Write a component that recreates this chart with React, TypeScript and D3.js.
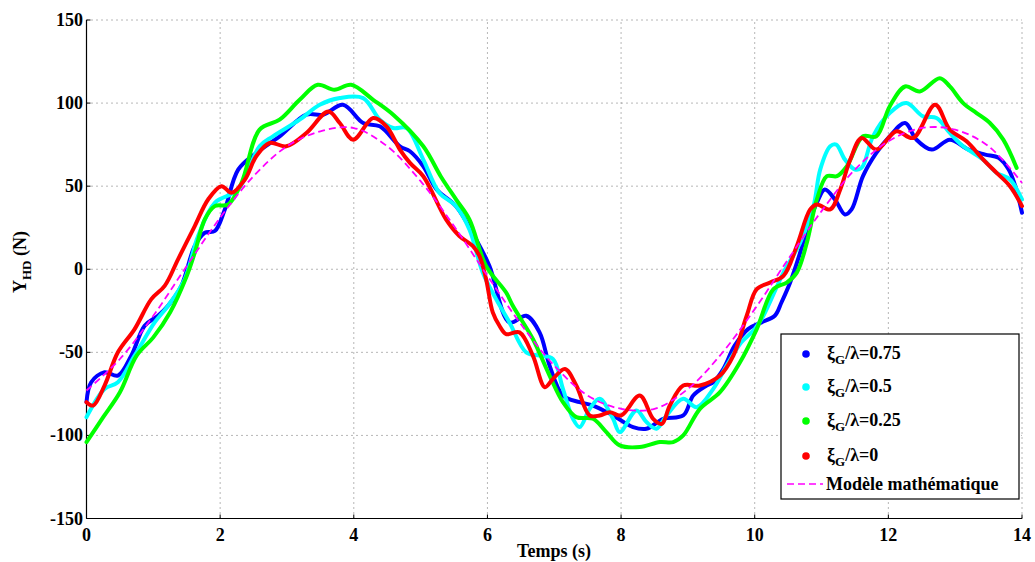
import React from "react";
import * as d3 from "d3";

type P = [number, number];

const xTicks = [0, 2, 4, 6, 8, 10, 12, 14];
const yTicks = [-150, -100, -50, 0, 50, 100, 150];

const seriesNames = ["0.75", "0.5", "0.25", "0"];
const seriesColors = ["#0000ff", "#00ffff", "#00ff00", "#ff0000"];
const modelName = "Modèle mathématique";

const blue: P[] = [
  [0, -80], [0.07, -68], [0.27, -62], [0.47, -64], [0.67, -52], [0.87, -34], [1.07, -28], [1.22, -22],
  [1.42, -10], [1.62, 14], [1.77, 22], [1.92, 23], [2.07, 36], [2.27, 60], [2.54, 70], [2.89, 80],
  [3.29, 93], [3.54, 93], [3.84, 99], [4.14, 88], [4.39, 86], [4.69, 74], [4.84, 71], [5.04, 62],
  [5.24, 48], [5.53, 38], [5.83, 18], [6.03, 2], [6.33, -32], [6.58, -28], [6.78, -38], [6.93, -58],
  [7.13, -76], [7.38, -80], [7.58, -82], [7.88, -88], [8.18, -95], [8.38, -96], [8.63, -90], [8.93, -88],
  [9.08, -76], [9.28, -70], [9.38, -68], [9.53, -60], [9.7, -46], [9.9, -36], [10.1, -32], [10.3, -28],
  [10.4, -20], [10.53, -8], [10.68, 10], [10.83, 30], [10.93, 40], [11.05, 48], [11.2, 42], [11.35, 33],
  [11.45, 36], [11.62, 56], [11.82, 70], [12.02, 80], [12.25, 88], [12.42, 78], [12.65, 72], [12.92, 78],
  [13.2, 72], [13.45, 69], [13.65, 67], [13.8, 60], [13.9, 50], [14, 34],
];

const cyan: P[] = [
  [0, -89], [0.27, -72], [0.47, -68], [0.72, -52], [1.02, -32], [1.22, -22], [1.47, -6], [1.67, 20],
  [1.92, 40], [2.27, 48], [2.59, 74], [2.79, 80], [3.19, 90], [3.49, 99], [3.79, 103], [4.14, 103],
  [4.39, 90], [4.59, 85], [4.79, 85], [5.04, 66], [5.28, 46], [5.53, 38], [5.73, 24], [5.93, -2],
  [6.13, -18], [6.33, -32], [6.58, -50], [6.78, -52], [6.98, -54], [7.13, -72], [7.28, -90], [7.38, -95],
  [7.53, -84], [7.68, -78], [7.88, -90], [7.98, -98], [8.23, -85], [8.38, -92], [8.53, -96], [8.68, -88],
  [8.93, -78], [9.13, -83], [9.38, -72], [9.58, -58], [9.8, -44], [10.0, -36], [10.13, -28], [10.43, -2],
  [10.68, 16], [10.88, 38], [10.98, 60], [11.13, 74], [11.22, 75], [11.35, 66], [11.5, 60], [11.6, 61],
  [11.77, 80], [12.02, 94], [12.27, 100], [12.52, 92], [12.72, 91], [12.92, 82], [13.12, 74], [13.42, 66],
  [13.62, 58], [13.82, 54], [14, 42],
];

const green: P[] = [
  [0, -104], [0.25, -89], [0.5, -74], [0.75, -52], [1.0, -41], [1.25, -26], [1.5, -4], [1.62, 10],
  [1.77, 30], [1.92, 38], [2.12, 39], [2.32, 52], [2.59, 84], [2.89, 90], [3.19, 102], [3.46, 111],
  [3.71, 108], [3.96, 111], [4.29, 102], [4.59, 93], [5.04, 74], [5.3, 56], [5.53, 42], [5.73, 30],
  [5.98, 2], [6.28, -14], [6.38, -22], [6.68, -42], [6.93, -64], [7.13, -80], [7.33, -89], [7.58, -90],
  [7.78, -98], [7.98, -106], [8.28, -107], [8.58, -104], [8.78, -104], [8.93, -100], [9.18, -84], [9.48, -74],
  [9.78, -56], [10.03, -36], [10.28, -12], [10.48, -8], [10.63, -2], [10.78, 16], [10.93, 42], [11.08, 56],
  [11.23, 56], [11.38, 62], [11.62, 80], [11.82, 80], [12.02, 98], [12.25, 110], [12.47, 107], [12.77, 115],
  [12.92, 110], [13.12, 100], [13.32, 94], [13.52, 88], [13.72, 78], [13.92, 61],
];

const red: P[] = [
  [0, -80], [0.1, -82], [0.27, -70], [0.47, -50], [0.72, -36], [0.97, -18], [1.17, -10], [1.37, 6],
  [1.62, 26], [1.82, 42], [2.02, 50], [2.17, 46], [2.37, 54], [2.54, 68], [2.74, 76], [2.99, 74],
  [3.29, 82], [3.62, 95], [3.79, 88], [3.99, 78], [4.29, 91], [4.49, 86], [4.69, 72], [4.84, 64],
  [5.04, 56], [5.38, 30], [5.58, 20], [5.78, 14], [5.88, 8], [5.98, -6], [6.08, -26], [6.18, -34],
  [6.28, -39], [6.48, -38], [6.68, -52], [6.86, -71], [6.98, -66], [7.16, -60], [7.33, -70], [7.53, -88],
  [7.68, -88], [7.83, -86], [8.0, -88], [8.28, -76], [8.48, -90], [8.61, -93], [8.73, -82], [8.93, -70],
  [9.18, -70], [9.48, -64], [9.68, -52], [9.88, -28], [10.03, -12], [10.23, -8], [10.43, -4], [10.63, 14],
  [10.83, 36], [10.93, 39], [11.13, 36], [11.28, 48], [11.43, 66], [11.6, 79], [11.82, 72], [12.12, 83],
  [12.37, 79], [12.7, 99], [12.92, 84], [13.17, 77], [13.42, 66], [13.62, 58], [13.82, 50], [14, 38],
];

const model: P[] = [
  [0, -73], [0.5, -54], [1.0, -28], [1.5, 2], [2.0, 31], [2.5, 56], [3.0, 74], [3.5, 83],
  [4.0, 85], [4.5, 74], [5.0, 53], [5.5, 26], [6.0, -4], [6.5, -33], [7.0, -58], [7.5, -76],
  [8.0, -84], [8.5, -84], [9.0, -72], [9.5, -51], [10.0, -24], [10.5, 6], [11.0, 35], [11.5, 60],
  [12.0, 77], [12.5, 85], [13.0, 84], [13.5, 74], [14.0, 52],
];

const series = [blue, cyan, green, red];

const W = 1035;
const H = 562;
const x = d3.scaleLinear().domain([0, 14]).range([86.5, 1022]);
const y = d3.scaleLinear().domain([-150, 150]).range([518.5, 20]);

const line = d3
  .line<P>()
  .x((d) => x(d[0]))
  .y((d) => y(d[1]))
  .curve(d3.curveCatmullRom.alpha(0.5));

const FONT = "'Liberation Serif', 'Times New Roman', serif";

export default function App() {
  const x0 = x.range()[0];
  const x1 = x.range()[1];
  const yb = y.range()[0];
  const yt = y.range()[1];
  const legX = 781;
  const legY = 334;
  const legW = 238;
  const legH = 165;
  const rowY = [354, 387, 421, 456];
  return (
    <svg
      width={W}
      height={H}
      style={{ position: "absolute", left: 0, top: 0, background: "#fff" }}
      fontFamily={FONT}
    >
      <rect x={0} y={0} width={W} height={H} fill="#fff" />
      {/* grid */}
      <g stroke="#6e6e6e" strokeWidth={1} strokeDasharray="1,4">
        {xTicks.map((t) => (
          <line key={"gx" + t} x1={x(t)} x2={x(t)} y1={yb} y2={yt} />
        ))}
        {yTicks.map((t) => (
          <line key={"gy" + t} x1={x0} x2={x1} y1={y(t)} y2={y(t)} />
        ))}
      </g>
      {/* axes */}
      <line x1={x0} x2={x1} y1={yb} y2={yb} stroke="#000" strokeWidth={1.2} />
      <line x1={x0} x2={x0} y1={yb} y2={yt} stroke="#000" strokeWidth={1.2} />
      <g stroke="#000" strokeWidth={1}>
        {xTicks.map((t) => (
          <line key={"tx" + t} x1={x(t)} x2={x(t)} y1={yb} y2={yb - 4} />
        ))}
        {yTicks.map((t) => (
          <line key={"ty" + t} x1={x0} x2={x0 + 4} y1={y(t)} y2={y(t)} />
        ))}
      </g>
      {/* tick labels */}
      <g fontSize={18} fontWeight="bold" fill="#000">
        {xTicks.map((t) => (
          <text key={"lx" + t} x={x(t)} y={541} textAnchor="middle">
            {t}
          </text>
        ))}
        {yTicks.map((t) => (
          <text key={"ly" + t} x={83} y={y(t) + 6} textAnchor="end">
            {t}
          </text>
        ))}
      </g>
      {/* axis titles */}
      <text x={554} y={557} textAnchor="middle" fontSize={18} fontWeight="bold">
        Temps (s)
      </text>
      <text
        transform="translate(26,262) rotate(-90)"
        textAnchor="middle"
        fontSize={18}
        fontWeight="bold"
      >
        Y
        <tspan fontSize={13} dy={5}>
          HD
        </tspan>
        <tspan dy={-5}> (N)</tspan>
      </text>
      {/* series */}
      <g fill="none" strokeLinejoin="round" strokeLinecap="round">
        {series.map((s, i) => (
          <path key={"s" + i} d={line(s) || ""} stroke={seriesColors[i]} strokeWidth={4} />
        ))}
        <path d={line(model) || ""} stroke="#ff00ff" strokeWidth={1.8} strokeDasharray="7,4" strokeLinecap="butt" />
      </g>
      {/* legend */}
      <rect x={legX} y={legY} width={legW} height={legH} fill="#fff" stroke="#000" strokeWidth={1.2} />
      <g fontSize={18} fontWeight="bold">
        {seriesNames.map((n, i) => (
          <g key={"lg" + i}>
            <circle cx={806} cy={rowY[i]} r={3.8} fill={seriesColors[i]} />
            <text x={827} y={rowY[i] + 5}>
              ξ
              <tspan fontSize={13} dy={5}>
                G
              </tspan>
              <tspan dy={-5}>/λ={n}</tspan>
            </text>
          </g>
        ))}
        <line x1={787} x2={823} y1={484} y2={484} stroke="#ff00ff" strokeWidth={1.5} strokeDasharray="7,4" />
        <text x={826} y={490}>
          {modelName}
        </text>
      </g>
    </svg>
  );
}
